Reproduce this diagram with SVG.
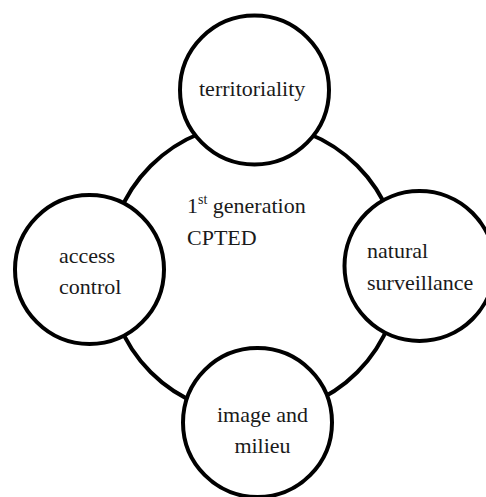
<svg xmlns="http://www.w3.org/2000/svg" width="486" height="497" viewBox="0 0 486 497">
  <style>
    .ring { fill: #ffffff; stroke: #000000; stroke-width: 4; }
    .label { font-size: 22px; fill: #1a1a1a; }
    .mid { text-anchor: middle; }
    .sup { font-size: 14px; }
  </style>
  <rect width="486" height="497" fill="#ffffff"/>

  <g font-family="'Liberation Serif', Tinos, 'Times New Roman', 'DejaVu Serif', serif">
    <!-- central concept -->
    <g id="cpted">
      <circle class="ring" cx="254" cy="269" r="146"/>
      <text class="label" x="187" y="213">1<tspan class="sup" dy="-9">st</tspan><tspan dy="9"> generation</tspan></text>
      <text class="label" x="187" y="245">CPTED</text>
    </g>

    <!-- the four principles sit on the ring -->
    <g id="connectors"></g>

    <g id="territoriality">
      <circle class="ring" cx="254.5" cy="90" r="74.5"/>
      <text class="label" x="199" y="96">territoriality</text>
    </g>

    <g id="access-control">
      <circle class="ring" cx="89.5" cy="269.5" r="74.5"/>
      <text class="label" x="59" y="263">access</text>
      <text class="label" x="59" y="294">control</text>
    </g>

    <g id="natural-surveillance">
      <circle class="ring" cx="419.5" cy="266" r="75"/>
      <text class="label" x="367" y="258">natural</text>
      <text class="label" x="367" y="290">surveillance</text>
    </g>

    <g id="image-milieu">
      <circle class="ring" cx="257.5" cy="422.5" r="74.5"/>
      <text class="label mid" x="262.5" y="422">image and</text>
      <text class="label mid" x="262.5" y="453">milieu</text>
    </g>
  </g>
</svg>
